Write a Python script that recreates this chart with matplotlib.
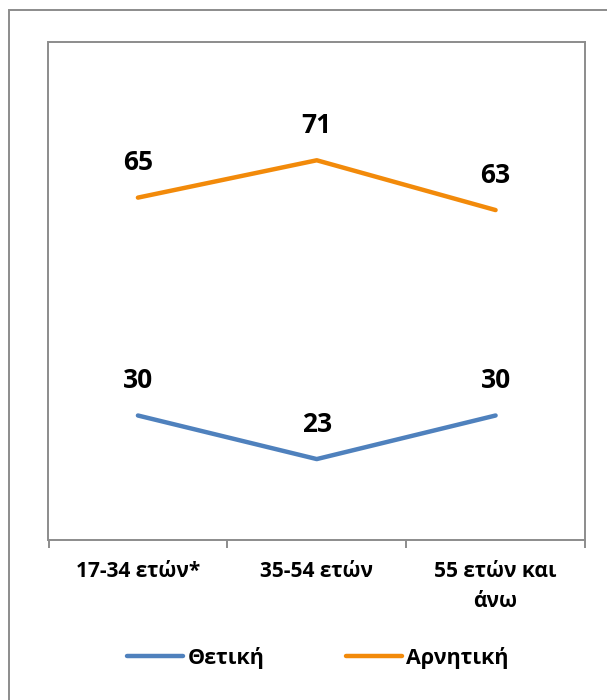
import matplotlib.pyplot as plt
from matplotlib.patches import Rectangle

plt.rcParams['font.family'] = ['Open Sans', 'DejaVu Sans']

categories = ['17-34 ετών*', '35-54 ετών', '55 ετών και\nάνω']
thetiki = [30, 23, 30]
arnitiki = [65, 71, 63]
series_names = ['Θετική', 'Αρνητική']

blue = '#4F81BD'
orange = '#F28A0A'
gray = '#8C8C8C'

W, H = 607, 700
fig = plt.figure(figsize=(W / 100, H / 100), dpi=100)

# outer chart border (cropped on right and bottom)
fig.patches.append(Rectangle((9 / W, -0.1), 2, 1 - 10 / H + 0.1, transform=fig.transFigure,
                             fill=False, edgecolor=gray, lw=1.4, clip_on=False))

ax = fig.add_axes([48.5 / W, (H - 540) / H, (585 - 48.5) / W, (540 - 42) / H])
x = list(range(len(categories)))

ax.plot(x, thetiki, color=blue, lw=3.2, solid_capstyle='round', label=series_names[0])
ax.plot(x, arnitiki, color=orange, lw=3.2, solid_capstyle='round', label=series_names[1])

for xi, v in zip(x, thetiki):
    ax.annotate(str(v), (xi, v), xytext=(0, 25), textcoords='offset points',
                ha='center', va='center', fontsize=19, fontweight='bold')
for xi, v in zip(x, arnitiki):
    ax.annotate(str(v), (xi, v), xytext=(0, 25), textcoords='offset points',
                ha='center', va='center', fontsize=19, fontweight='bold')

ax.set_xlim(-0.5, 2.5)
ax.set_ylim(10, 90)
ax.set_yticks([])
ax.set_xticks(x)
ax.set_xticklabels(categories, fontsize=15, fontweight='bold', linespacing=1.55)
ax.tick_params(axis='x', which='major', length=0, pad=15)
ax.set_xticks([-0.5, 0.5, 1.5, 2.5], minor=True)
ax.tick_params(axis='x', which='minor', length=5.5, width=1.4, color=gray, direction='out')
for s in ax.spines.values():
    s.set_color(gray)
    s.set_linewidth(1.4)

fig.legend(loc='center', bbox_to_anchor=(318 / W, 1 - 658 / H), ncol=2, frameon=False,
           prop={'size': 15.5, 'weight': 'bold'}, handlelength=2.6, handletextpad=0.2,
           columnspacing=3.8)

fig.savefig('out.png', dpi=100)
